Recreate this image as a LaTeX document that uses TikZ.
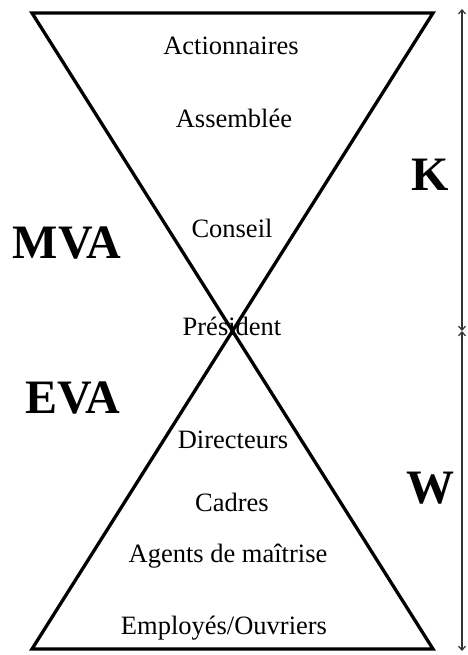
\documentclass[tikz,border=0pt]{standalone}
\usepackage{fontspec}
\setmainfont{Liberation Serif}
\usetikzlibrary{arrows.meta}
\begin{document}
\begin{tikzpicture}[x=1pt,y=-1pt,
  lbl/.style={anchor=base,inner sep=0pt,font=\fontsize{26.5}{30}\selectfont},
  big/.style={anchor=center,inner sep=0pt,font=\fontsize{48}{56}\selectfont\bfseries},
  edge/.style={line width=3.3pt,line join=miter},
  dim/.style={line width=1.2pt,draw=black!80,{Straight Barb[length=4pt,width=7pt]}-{Straight Barb[length=4pt,width=7pt]}}]
\useasboundingbox (0,0) rectangle (467,655);
\coordinate (tl) at (32,13);
\coordinate (tr) at (433,13);
\coordinate (bl) at (32,649);
\coordinate (br) at (433,649);
\coordinate (x) at (232.5,331);
\draw[edge] (tl) -- (tr) -- (x) -- cycle;
\draw[edge] (bl) -- (br) -- (x) -- cycle;
\coordinate (dt) at (462,9);
\coordinate (dm) at (462,331);
\coordinate (db) at (462,651);
\draw[dim] (dt) -- (dm);
\draw[dim] (dm) -- (db);
\node[lbl] (act) at (231,55) {Actionnaires};
\node[lbl] (ass) at (234,128) {Assemblée};
\node[lbl] (con) at (232,237) {Conseil};
\node[lbl] (pre) at (232,335) {Président};
\node[lbl] (dir) at (233,448) {Directeurs};
\node[lbl] (cad) at (232,511) {Cadres};
\node[lbl] (age) at (228,562) {Agents de maîtrise};
\node[lbl] (emp) at (224,634) {Employés/Ouvriers};
\node[big] (mva) at (67,243) {MVA};
\node[big] (eva) at (73,398) {EVA};
\node[big] (k) at (430,175) {K};
\node[big] (w) at (430,488) {W};
\end{tikzpicture}
\end{document}
